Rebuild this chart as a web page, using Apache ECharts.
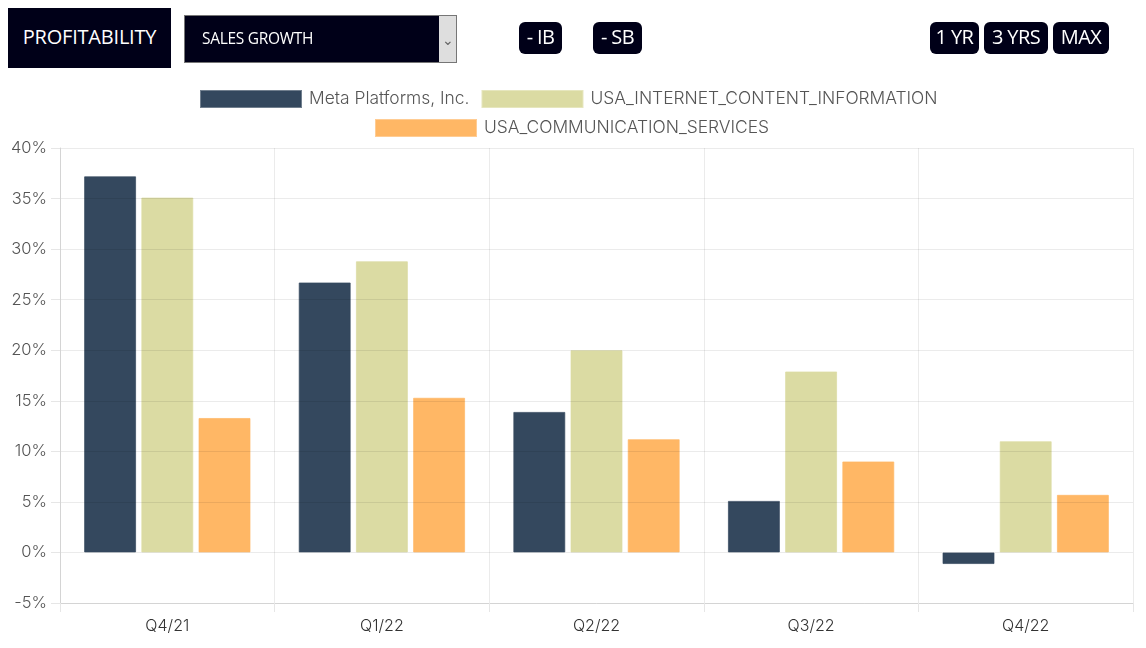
<!DOCTYPE html>
<html>
<head>
<meta charset="utf-8">
<script src="https://cdn.jsdelivr.net/npm/echarts@6/dist/echarts.min.js"></script>
<style>
html, body { margin: 0; padding: 0; background: #fff; }
#chart { position: absolute; left: 0; top: 0; width: 1146px; height: 648px; }
.ctl {
    position: absolute; background: #000018; color: #fff; font-family: "Open Sans", sans-serif;
    display: flex; align-items: center; justify-content: center; box-sizing: border-box; white-space: nowrap;
    padding-bottom: 3px;
}
.btn { top: 22px; height: 32px; border-radius: 6px; font-size: 20px; letter-spacing: -0.6px; }
</style>
</head>
<body>
<div id="chart"></div>
<div class="ctl" style="left:8px;top:8px;width:163px;height:60px;font-size:20px;letter-spacing:-0.2px;">PROFITABILITY</div>
<div class="ctl" style="left:184px;top:15px;width:273px;height:48px;border:1px solid #767676;justify-content:flex-start;padding-left:17px;font-size:15.5px;letter-spacing:-0.3px;">SALES GROWTH
    <div style="position:absolute;right:0;top:0;width:17px;height:46px;background:#dedede;color:#666;font-size:14px;display:flex;align-items:center;justify-content:center;">&#8964;</div>
</div>
<div class="ctl btn" style="left:519px;width:43px;">- IB</div>
<div class="ctl btn" style="left:593px;width:49px;">- SB</div>
<div class="ctl btn" style="left:930px;width:49px;">1 YR</div>
<div class="ctl btn" style="left:984px;width:64px;">3 YRS</div>
<div class="ctl btn" style="left:1053px;width:56px;">MAX</div>
<script>
var quarters = ['Q4/21', 'Q1/22', 'Q2/22', 'Q3/22', 'Q4/22'];
var metaValues = [37.2, 26.7, 13.9, 5.1, -1.15];
var internetValues = [35.1, 28.8, 20.0, 17.9, 11.0];
var commValues = [13.3, 15.3, 11.2, 9.0, 5.7];
var fontName = 'Inter, "Noto Sans", sans-serif';

var barSeries = function (name, values, fill, edge) {
    return {
        name: name,
        type: 'bar',
        data: values,
        barWidth: 52,
        barGap: '10%',
        itemStyle: { color: fill, borderColor: edge, borderWidth: 1 }
    };
};

var legendRow = function (left, top, names) {
    return {
        top: top,
        left: left,
        data: names,
        icon: 'rect',
        itemWidth: 100,
        itemHeight: 16,
        itemGap: 12,
        textStyle: { fontFamily: fontName, fontSize: 17.4, fontWeight: 300, color: '#555', padding: [0, 0, 2, 3] }
    };
};

var myChart = echarts.init(document.getElementById('chart'));
var option = {
    animation: false,
    legend: [
        legendRow(195, 85, ['Meta Platforms, Inc.', 'USA_INTERNET_CONTENT_INFORMATION']),
        legendRow(370, 114, ['USA_COMMUNICATION_SERVICES'])
    ],
    grid: { left: 60, right: 13, top: 148, bottom: 45 },
    xAxis: {
        type: 'category',
        data: quarters,
        z: 3,
        axisLine: { onZero: false, lineStyle: { color: '#d4d4d4', width: 1 } },
        axisTick: { show: true, length: 9, lineStyle: { color: '#e6e6e6' } },
        axisLabel: { fontFamily: fontName, fontSize: 16, fontWeight: 300, color: '#333', margin: 15 },
        splitLine: { show: true, lineStyle: { color: 'rgba(0,0,0,0.08)' } }
    },
    yAxis: {
        type: 'value',
        min: -5,
        max: 40,
        interval: 5,
        z: 3,
        axisLine: { show: true, lineStyle: { color: '#d4d4d4', width: 1 } },
        axisTick: { show: true, length: 9, lineStyle: { color: '#e6e6e6' } },
        axisLabel: { fontFamily: fontName, fontSize: 16.5, fontWeight: 300, color: '#555', margin: 13, formatter: '{value}%' },
        splitLine: { lineStyle: { color: 'rgba(0,0,0,0.08)' } }
    },
    series: [
        barSeries('Meta Platforms, Inc.', metaValues, '#34485e', 'rgba(52,72,94,0.7)'),
        barSeries('USA_INTERNET_CONTENT_INFORMATION', internetValues, '#dbdba3', 'rgba(219,219,163,0.7)'),
        barSeries('USA_COMMUNICATION_SERVICES', commValues, '#ffb765', 'rgba(255,183,101,0.7)')
    ]
};
myChart.setOption(option);

window.addEventListener('resize', function () {
    myChart.resize();
});
</script>
</body>
</html>
